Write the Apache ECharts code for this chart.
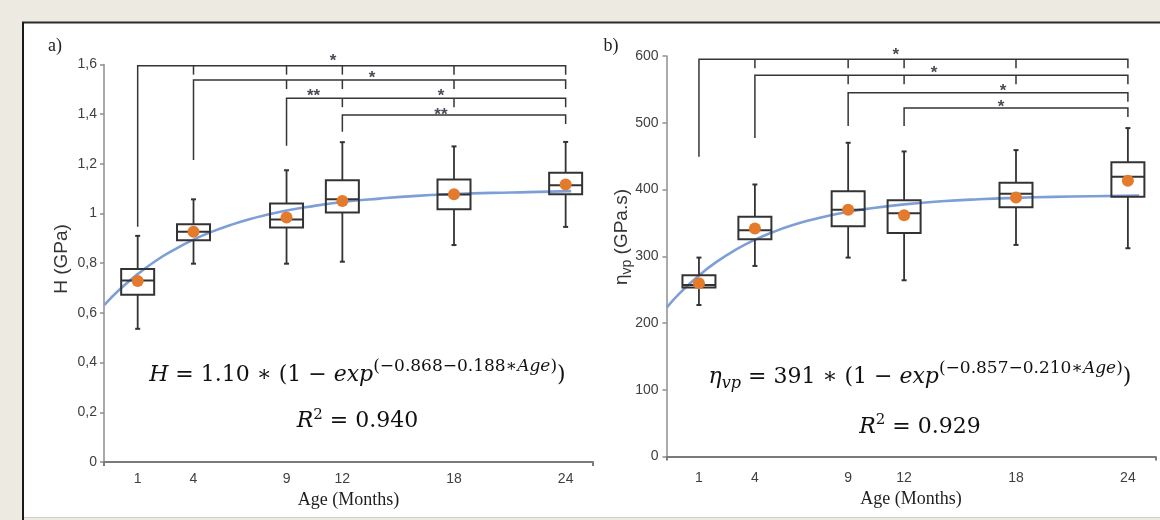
<!DOCTYPE html>
<html><head><meta charset="utf-8">
<script src="https://cdn.jsdelivr.net/npm/echarts@6/dist/echarts.min.js"></script>
<style>html,body{margin:0;padding:0;background:#EDEBE1}#c{width:1160px;height:520px}</style>
</head><body><div id="c"></div>
<script>
// ---------- data ----------
const ages = [1, 4, 9, 12, 18, 24];
const ageTickLabels = ['1', '4', '9', '12', '18', '24'];

// Panel a: H (GPa)
const hMin    = [0.536, 0.798, 0.798, 0.806, 0.873, 0.946];
const hQ1     = [0.673, 0.892, 0.944, 1.004, 1.017, 1.077];
const hMedian = [0.730, 0.927, 0.976, 1.057, 1.076, 1.114];
const hQ3     = [0.777, 0.957, 1.040, 1.134, 1.137, 1.164];
const hMax    = [0.910, 1.057, 1.174, 1.287, 1.270, 1.288];
const hMean   = [0.728, 0.927, 0.984, 1.050, 1.077, 1.117];
const hFitAge = [-0.8, 0, 1, 2, 3, 4, 5, 6, 7, 8, 9, 10, 12, 14, 16, 18, 20, 22, 24.3];
const hFit    = [0.631, 0.692, 0.756, 0.811, 0.856, 0.895, 0.927, 0.954, 0.977, 0.996, 1.012, 1.025,
                 1.046, 1.060, 1.071, 1.078, 1.083, 1.086, 1.090];
const hBracketFrom  = [1, 4, 9, 12];
const hBracketTo    = [24, 24, 24, 24];
const hBracketLevel = [1.595, 1.537, 1.464, 1.396];
const hBracketFoot  = [0.947, 1.215, 1.273, 1.329];
const hBracketTicks = [[4, 9, 12, 18], [9, 12, 18], [12, 18], []];
const hStarText  = ['*', '*', '**', '*', '**'];
const hStarAge   = [11.5, 13.6, 10.45, 17.3, 17.3];
const hStarLevel = [1.631, 1.566, 1.490, 1.490, 1.417];

// Panel b: eta_vp (GPa.s)
const vMin    = [227, 285.5, 298, 264, 317, 312];
const vQ1     = [253, 325.5, 345, 335, 373.5, 389];
const vMedian = [257, 339, 369.5, 364.5, 393.5, 419];
const vQ3     = [271.5, 359, 397.5, 384, 410, 441];
const vMax    = [298, 407.5, 470, 457, 459, 492];
const vMean   = [259.5, 341.5, 369.5, 361.5, 388, 413];
const vFitAge = [-0.72, 0, 1, 2, 3, 4, 5, 6, 7, 8, 9, 10, 12, 14, 16, 18, 20, 22, 24.6];
const vFit    = [223.4, 245.4, 271.3, 292.6, 310.2, 324.6, 336.5, 346.3, 354.3, 361, 366.5, 371,
                 377.7, 382.3, 385.4, 387.5, 389, 389.9, 390.8];
const vBracketFrom  = [1, 4, 9, 12];
const vBracketTo    = [24, 24, 24, 24];
const vBracketLevel = [595, 571, 545, 522];
const vBracketFoot  = [449, 477, 495, 495];
const vBracketTicks = [[4, 9, 12, 18], [9, 12, 18], [], []];
const vStarText  = ['*', '*', '*', '*'];
const vStarAge   = [11.55, 13.6, 17.3, 17.2];
const vStarLevel = [608, 582, 554, 531];

// ---------- helpers ----------
const NARROW = "'Liberation Sans Narrow','Arial Narrow','Liberation Sans',Arial,sans-serif";
const SANS = "'Liberation Sans',Arial,sans-serif";
const SERIF_EQ = "'DejaVu Serif',serif";
const SERIF = "'Liberation Serif','Times New Roman',serif";
const LINE = '#333333';

function boxSeries(g, mn, q1, md, q3, mx) {
  return {
    type: 'custom', xAxisIndex: g, yAxisIndex: g, z: 3, clip: false, silent: true,
    data: ages.map((a, i) => [a, mn[i], q1[i], md[i], q3[i], mx[i]]),
    renderItem(params, api) {
      const x = api.value(0);
      const pMin = api.coord([x, api.value(1)]);
      const pQ1 = api.coord([x, api.value(2)]);
      const pMd = api.coord([x, api.value(3)]);
      const pQ3 = api.coord([x, api.value(4)]);
      const pMax = api.coord([x, api.value(5)]);
      const cx = pMd[0], hw = 16.5, cap = 2.5;
      const s = { stroke: LINE, lineWidth: 2, fill: 'none' };
      const w = { stroke: LINE, lineWidth: 1.8 };
      return { type: 'group', children: [
        { type: 'rect', shape: { x: cx - hw, y: pQ3[1], width: 2 * hw, height: pQ1[1] - pQ3[1] }, style: s },
        { type: 'line', shape: { x1: cx - hw, y1: pMd[1], x2: cx + hw, y2: pMd[1] }, style: s },
        { type: 'line', shape: { x1: cx, y1: pQ3[1], x2: cx, y2: pMax[1] }, style: w },
        { type: 'line', shape: { x1: cx, y1: pQ1[1], x2: cx, y2: pMin[1] }, style: w },
        { type: 'line', shape: { x1: cx - cap, y1: pMax[1], x2: cx + cap, y2: pMax[1] }, style: s },
        { type: 'line', shape: { x1: cx - cap, y1: pMin[1], x2: cx + cap, y2: pMin[1] }, style: s }
      ]};
    }
  };
}

function bracketSeries(g, from, to, level, foot, ticks) {
  const TICK = 9;
  return {
    type: 'custom', xAxisIndex: g, yAxisIndex: g, z: 3, clip: false, silent: true,
    data: from.map((f, i) => [f, to[i], level[i], foot[i]]),
    renderItem(params, api) {
      const i = params.dataIndex;
      const a = api.coord([api.value(0), api.value(2)]);
      const b = api.coord([api.value(1), api.value(2)]);
      const fy = api.coord([api.value(0), api.value(3)])[1];
      const st = { stroke: '#353535', lineWidth: 1.5, fill: 'none' };
      const ch = [{ type: 'polyline', shape: { points: [[a[0], fy], [a[0], a[1]], [b[0], b[1]], [b[0], b[1] + TICK]] }, style: st }];
      ticks[i].forEach(t => {
        const p = api.coord([t, api.value(2)]);
        ch.push({ type: 'line', shape: { x1: p[0], y1: p[1], x2: p[0], y2: p[1] + TICK }, style: { stroke: '#353535', lineWidth: 1.5 } });
      });
      return { type: 'group', children: ch };
    }
  };
}

function starSeries(g, texts, agesS, levels) {
  return {
    type: 'custom', xAxisIndex: g, yAxisIndex: g, z: 4, clip: false, silent: true,
    data: agesS.map((a, i) => [a, levels[i]]),
    renderItem(params, api) {
      const p = api.coord([api.value(0), api.value(1)]);
      return { type: 'text', x: p[0], y: p[1] + 5, style: {
        text: texts[params.dataIndex], font: 'bold 17px ' + SANS, fill: '#4b4b58', align: 'center', verticalAlign: 'middle' } };
    }
  };
}

function fitSeries(g, xs, ys) {
  return { type: 'line', xAxisIndex: g, yAxisIndex: g, z: 2, smooth: true,
    showSymbol: false, silent: true, data: xs.map((x, i) => [x, ys[i]]),
    lineStyle: { color: '#7E9FD6', width: 2.6 } };
}

function meanSeries(g, ys) {
  return { type: 'scatter', xAxisIndex: g, yAxisIndex: g, z: 5, silent: true, symbolSize: 12,
    data: ages.map((a, i) => [a, ys[i]]), itemStyle: { color: '#E37A2C', opacity: 1 } };
}

function xAxisCfg(g, min, max, margin, nameGap) {
  return {
    gridIndex: g, type: 'value', min: min, max: max, splitLine: { show: false },
    axisLine: { onZero: false, lineStyle: { color: '#7b7b7b', width: 2 } },
    axisTick: { show: true, customValues: [min, max], length: 4, lineStyle: { color: '#7b7b7b', width: 2 } },
    axisLabel: { customValues: ages, formatter: v => ageTickLabels[ages.indexOf(v)], margin: margin,
      fontFamily: NARROW, fontSize: 14, color: '#3f3f3f' },
    name: 'Age (Months)', nameLocation: 'middle', nameGap: nameGap,
    nameTextStyle: { fontFamily: SERIF, fontSize: 18, color: '#1e1e1e' }
  };
}

function yAxisCfg(g, max, interval, fmt, margin) {
  return {
    gridIndex: g, type: 'value', min: 0, max: max, interval: interval, splitLine: { show: false },
    axisLine: { show: true, onZero: false, lineStyle: { color: '#8e8e8e', width: 1.5 } },
    axisTick: { show: true, length: 4, lineStyle: { color: '#8e8e8e', width: 1.5 } },
    axisLabel: { formatter: fmt, margin: margin, fontFamily: NARROW, fontSize: 14, color: '#3f3f3f' }
  };
}

// equation text pieces placed from measured widths
const mctx = document.createElement('canvas').getContext('2d');
function eqLine(cx, baseline, pieces) {
  const fonts = pieces.map(p => (p[2] ? 'italic ' : '') + p[1] + 'px ' + SERIF_EQ);
  const widths = pieces.map((p, i) => { mctx.font = fonts[i]; return mctx.measureText(p[0]).width; });
  let x = cx - widths.reduce((a, b) => a + b, 0) / 2;
  return pieces.map((p, i) => {
    const el = { type: 'text', x: x, y: baseline + p[3] - 0.3 * p[1], silent: true, z: 10,
      style: { text: p[0], font: fonts[i], fill: '#111', align: 'left', verticalAlign: 'middle' } };
    x += widths[i];
    return el;
  });
}

const M = 22, S = 17;
const graphics = [
  { type: 'rect', z: -10, silent: true, shape: { x: 22, y: 22, width: 1138, height: 495 }, style: { fill: '#ffffff' } },
  { type: 'line', z: -9, silent: true, shape: { x1: 22, y1: 22.5, x2: 1160, y2: 22.5 }, style: { stroke: '#2a2a2a', lineWidth: 2 } },
  { type: 'line', z: -9, silent: true, shape: { x1: 23, y1: 22, x2: 23, y2: 520 }, style: { stroke: '#1a1a1a', lineWidth: 2 } },
  { type: 'line', z: -9, silent: true, shape: { x1: 24, y1: 517.5, x2: 1160, y2: 517.5 }, style: { stroke: '#cfcfcf', lineWidth: 1 } },
  { type: 'text', x: 55, y: 46, z: 10, silent: true, style: { text: 'a)', font: '18px ' + SERIF, fill: '#222', align: 'center', verticalAlign: 'middle' } },
  { type: 'text', x: 611, y: 46, z: 10, silent: true, style: { text: 'b)', font: '18px ' + SERIF, fill: '#222', align: 'center', verticalAlign: 'middle' } },
  { type: 'text', x: 62, y: 259, rotation: Math.PI / 2, z: 10, silent: true,
    style: { text: 'H (GPa)', font: '19px ' + SANS, fill: '#333', align: 'center', verticalAlign: 'middle' } },
  { type: 'text', x: 622, y: 237, rotation: Math.PI / 2, z: 10, silent: true,
    style: { text: '{e|η}{s|vp}{e| (GPa.s)}', align: 'center', verticalAlign: 'middle',
      rich: { e: { fontSize: 19, fontFamily: SANS, fill: '#333', lineHeight: 24, verticalAlign: 'middle' },
              s: { fontSize: 14, fontFamily: SANS, fill: '#333', verticalAlign: 'bottom' } } } }
].concat(
  eqLine(357.4, 382.3, [['H', M, true, 0], [' = 1.10 ∗ (1 − ', M, false, 0], ['exp', M, true, 0],
    ['(−0.868−0.188∗', S, false, -10.6], ['Age', S, true, -10.6], [')', S, false, -10.6], [')', M, false, 0]]),
  eqLine(357.5, 428.3, [['R', M, true, 0], ['2', 15, false, -9], [' = 0.940', M, false, 0]]),
  eqLine(920, 384, [['η', M, true, 0], ['vp', 16, true, 5], [' = 391 ∗ (1 − ', M, false, 0], ['exp', M, true, 0],
    ['(−0.857−0.210∗', S, false, -10.6], ['Age', S, true, -10.6], [')', S, false, -10.6], [')', M, false, 0]]),
  eqLine(920, 434, [['R', M, true, 0], ['2', 15, false, -9], [' = 0.929', M, false, 0]])
);

const chart = echarts.init(document.getElementById('c'), null, { renderer: 'canvas' });
chart.setOption({
  backgroundColor: '#EDEBE1',
  animation: false,
  grid: [
    { left: 104, top: 64.4, width: 489, height: 397.6 },
    { left: 666.5, top: 56, width: 489, height: 400.5 }
  ],
  xAxis: [xAxisCfg(0, -0.81, 25.47, 10, 27), xAxisCfg(1, -0.74, 25.48, 15, 33)],
  yAxis: [
    yAxisCfg(0, 1.6, 0.2, v => { const r = Math.round(v * 10) / 10; return String(r).replace('.', ','); }, 7),
    yAxisCfg(1, 600, 100, v => String(v), 8)
  ],
  graphic: graphics,
  series: [
    fitSeries(0, hFitAge, hFit), boxSeries(0, hMin, hQ1, hMedian, hQ3, hMax), meanSeries(0, hMean),
    bracketSeries(0, hBracketFrom, hBracketTo, hBracketLevel, hBracketFoot, hBracketTicks),
    starSeries(0, hStarText, hStarAge, hStarLevel),
    fitSeries(1, vFitAge, vFit), boxSeries(1, vMin, vQ1, vMedian, vQ3, vMax), meanSeries(1, vMean),
    bracketSeries(1, vBracketFrom, vBracketTo, vBracketLevel, vBracketFoot, vBracketTicks),
    starSeries(1, vStarText, vStarAge, vStarLevel)
  ]
});
</script></body></html>
